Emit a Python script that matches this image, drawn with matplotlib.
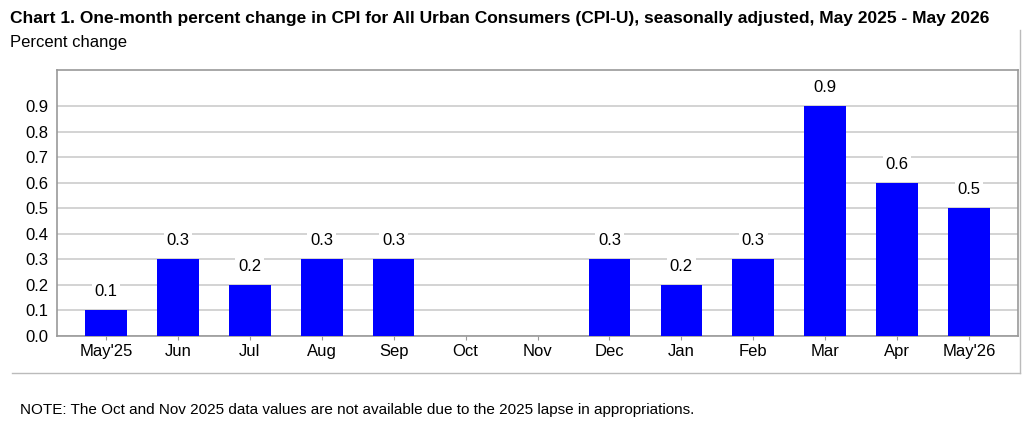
import matplotlib
matplotlib.use("Agg")
from matplotlib import pyplot as plt
from matplotlib.lines import Line2D

months = ["May'25", "Jun", "Jul", "Aug", "Sep", "Oct", "Nov", "Dec", "Jan", "Feb", "Mar", "Apr", "May'26"]
values = [0.1, 0.3, 0.2, 0.3, 0.3, None, None, 0.3, 0.2, 0.3, 0.9, 0.6, 0.5]
yticks = [0.0, 0.1, 0.2, 0.3, 0.4, 0.5, 0.6, 0.7, 0.8, 0.9]

plt.rcParams["font.family"] = ["Liberation Sans", "DejaVu Sans"]
W, H = 1036, 430
fig = plt.figure(figsize=(W / 100, H / 100), dpi=100)
ax = fig.add_axes([57 / W, 1 - 336 / H, (1018 - 57) / W, (336 - 70) / H])

for i, v in enumerate(values):
    if v is None:
        continue
    ax.bar(i, v, width=0.58, color="#0000ff", zorder=3)
    ax.text(i, v + 0.045, f"{v:.1f}", ha="center", va="bottom", fontsize=12, zorder=4,
            bbox=dict(facecolor="white", edgecolor="none", pad=2))

ax.set_xlim(-0.68, len(months) - 1 + 0.68)
ax.set_ylim(0, 1.043)
ax.set_yticks(yticks)
ax.set_yticklabels([f"{t:.1f}" for t in yticks], fontsize=12)
ax.set_xticks(range(len(months)))
ax.set_xticklabels(months, fontsize=12)
ax.tick_params(axis="y", length=0, pad=6)
ax.tick_params(axis="x", length=3, color="#999999", pad=3)
ax.yaxis.grid(True, color="#cccccc", linewidth=1.2, zorder=0)
for s in ax.spines.values():
    s.set_color("#999999")
    s.set_linewidth(1.2)

fig.text(10 / W, 1 - 18 / H, "Chart 1. One-month percent change in CPI for All Urban Consumers (CPI-U), seasonally adjusted, May 2025 - May 2026",
         fontsize=12.5, fontweight="bold", va="center", ha="left")
fig.text(10 / W, 1 - 42 / H, "Percent change", fontsize=12, va="center", ha="left")
fig.text(20 / W, 1 - 410 / H, "NOTE: The Oct and Nov 2025 data values are not available due to the 2025 lapse in appropriations.",
         fontsize=11, va="center", ha="left")

fig.add_artist(Line2D([12 / W, 1020 / W], [1 - 373 / H, 1 - 373 / H], color="#bbbbbb", linewidth=1))
fig.add_artist(Line2D([1020 / W, 1020 / W], [1 - 373 / H, 1 - 30 / H], color="#bbbbbb", linewidth=1))

fig.savefig("out.png", dpi=100)
